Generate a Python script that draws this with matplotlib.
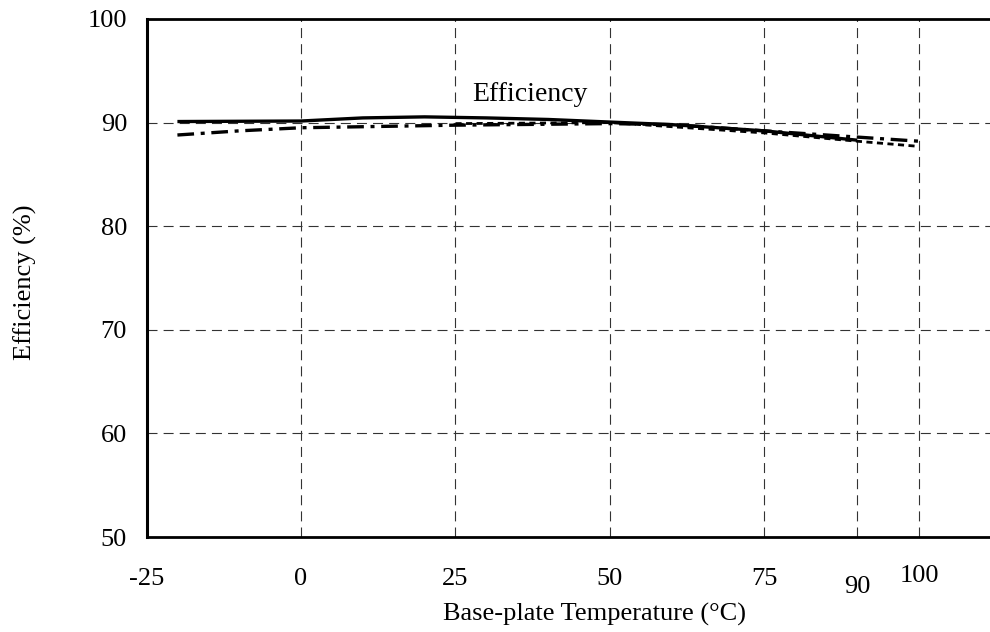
import numpy as np
import matplotlib
matplotlib.use("Agg")
import matplotlib.pyplot as plt
import matplotlib.transforms as mtransforms

plt.rcParams['font.family'] = ['Liberation Serif', 'DejaVu Serif']
plt.rcParams['axes.unicode_minus'] = False

# efficiency curves vs base-plate temperature
temp_solid = [-20, 0, 10, 20, 30, 40, 50, 60, 75, 90]
eff_solid = [90.1, 90.15, 90.45, 90.55, 90.45, 90.3, 90.05, 89.8, 89.2, 88.3]

temp_dashdot = [-20, -10, 0, 10, 25, 50, 60, 75, 90, 100]
eff_dashdot = [88.8, 89.2, 89.5, 89.6, 89.75, 89.9, 89.8, 89.2, 88.6, 88.2]

temp_dash = [25, 50, 75, 90, 100]
eff_dash = [89.9, 90.0, 89.0, 88.2, 87.7]

xticks = [-25, 0, 25, 50, 75, 90, 100]
yticks = [50, 60, 70, 80, 90, 100]

fig = plt.figure(figsize=(9.9, 6.32), dpi=100)
ax = fig.add_axes([0.148, 0.1503, 0.852, 0.8197])

ax.plot(temp_solid, eff_solid, color="black", lw=2.4, solid_capstyle="butt")
ax.plot(temp_dashdot, eff_dashdot, color="black", lw=2.4, dashes=(5, 2, 1.2, 2))
ax.plot(temp_dash, eff_dash, color="black", lw=2.0, dashes=(2.2, 1.6))

ax.set_xlim(-25, 111.5)
ax.set_ylim(50, 100)
ax.set_xticks(xticks)
ax.set_yticks(yticks)
ax.tick_params(length=0, labelsize=19)
ax.tick_params(axis="y", pad=14)
ax.tick_params(axis="x", pad=22)

# the "90" label sits a bit lower than the rest
for lab, t in zip(ax.get_xticklabels(), xticks):
    if t == 90:
        off = mtransforms.ScaledTranslation(0, -8 / 100, fig.dpi_scale_trans)
        lab.set_transform(lab.get_transform() + off)
    elif t == 100:
        off = mtransforms.ScaledTranslation(0, 3 / 100, fig.dpi_scale_trans)
        lab.set_transform(lab.get_transform() + off)

ax.grid(True, color="#333333", lw=0.8, linestyle=(0, (9, 5.5)))
ax.set_axisbelow(True)

ax.spines["right"].set_visible(False)
ax.spines["left"].set_linewidth(2.2)
ax.spines["bottom"].set_linewidth(2.0)
ax.spines["top"].set_linewidth(2.0)

ax.text(37, 92.7, "Efficiency", ha="center", va="center", fontsize=20)

ax.set_xlabel("Base-plate Temperature (°C)", fontsize=19, va="top")
ax.xaxis.set_label_coords(0.531, -0.127)
ax.set_ylabel("Efficiency (%)", fontsize=19, va="center")
ax.yaxis.set_label_coords(-0.144, 0.492)

fig.savefig("out.png", dpi=100)
